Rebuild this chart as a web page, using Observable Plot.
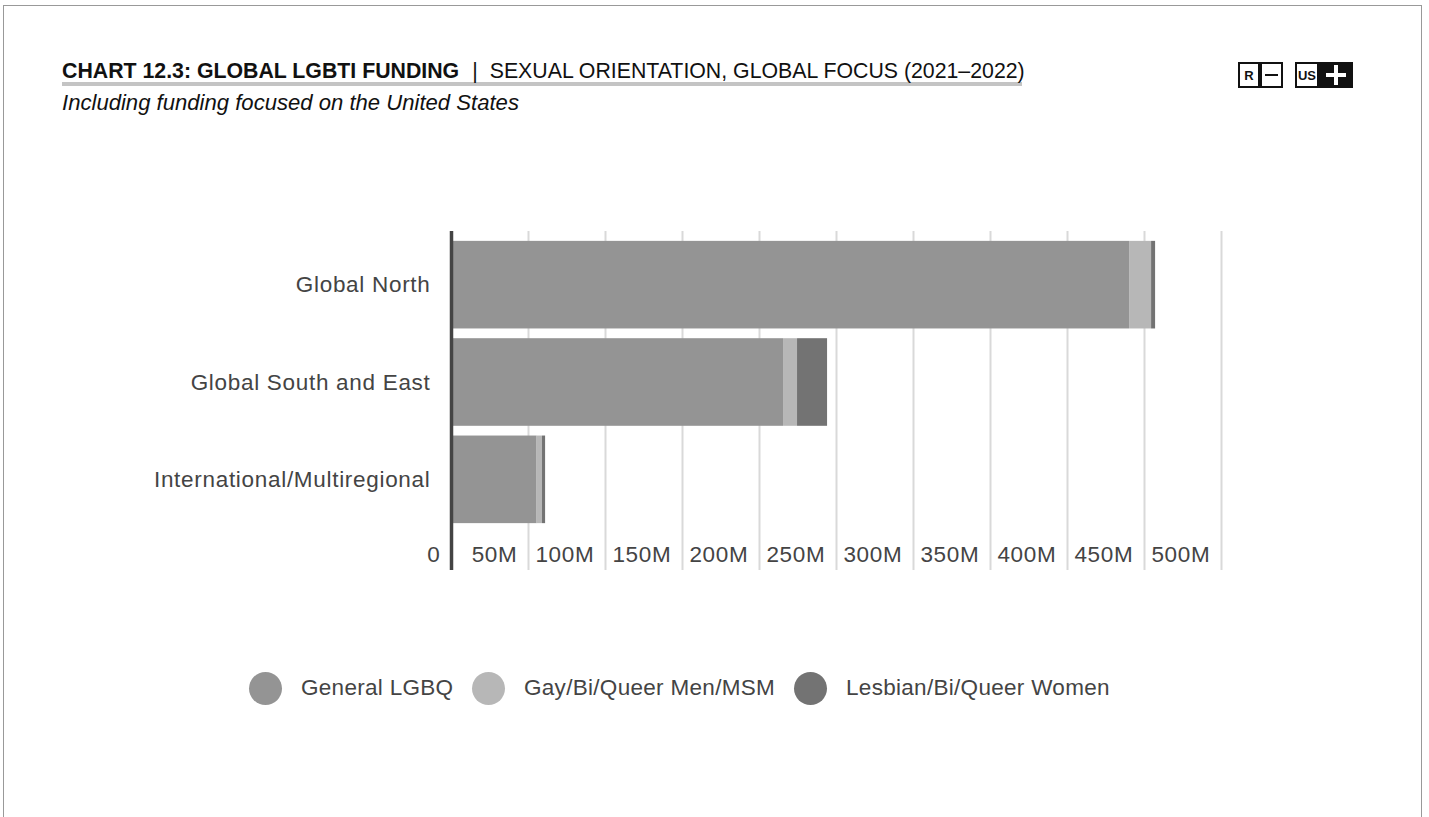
<!DOCTYPE html>
<html>
<head>
<meta charset="utf-8">
<script src="https://cdn.jsdelivr.net/npm/d3@7"></script>
<script src="https://cdn.jsdelivr.net/npm/@observablehq/plot@0.6"></script>
<style>
  html, body { margin: 0; padding: 0; background: #fff; }
  body { width: 1429px; height: 817px; position: relative; overflow: hidden; font-family: "Liberation Sans", Arial, Helvetica, sans-serif; color: #222; }
  #border { position: absolute; left: 3px; top: 5px; width: 1419px; height: 900px; border: 1px solid #999; box-sizing: border-box; }
  #title { position: absolute; left: 62px; top: 59px; font-size: 21.3px; white-space: nowrap; line-height: 24px; color: #111; }
  #title b { font-weight: bold; }
  #title .sep { margin: 0 12px 0 13px; }
  #underline { position: absolute; left: 62px; top: 82px; width: 960px; height: 4px; background: #c4c4c4; }
  #subtitle { position: absolute; left: 62px; top: 91px; font-size: 22.1px; line-height: 24px; font-style: italic; color: #111; white-space: nowrap; }
  .ib { position: absolute; top: 62px; height: 26px; box-sizing: border-box; border: 2px solid #111; font-weight: bold; font-size: 13px; display: flex; align-items: center; justify-content: center; color: #111; }
  #chart { position: absolute; left: 0; top: 200px; }
  #chart text { letter-spacing: 0.7px; }
  .li { position: absolute; top: 671px; display: flex; align-items: center; height: 34px; font-size: 22.5px; letter-spacing: 0.3px; color: #444; white-space: nowrap; }
  .dot { width: 33px; height: 33px; border-radius: 50%; margin-right: 19px; }
</style>
</head>
<body>
<div id="border"></div>
<div id="underline"></div>
<div id="title"><b>CHART 12.3: GLOBAL LGBTI FUNDING</b><span class="sep">|</span>SEXUAL ORIENTATION, GLOBAL FOCUS (2021–2022)</div>
<div id="subtitle">Including funding focused on the United States</div>
<div class="ib" style="left:1238px;width:22px;">R</div>
<div class="ib" style="left:1260px;width:23px;"><div style="width:13px;height:2px;background:#111"></div></div>
<div class="ib" style="left:1295px;width:24px;font-size:13px;">US</div>
<div class="ib" style="left:1319px;width:34px;background:#111;">
  <div style="position:relative;width:20px;height:20px;">
    <div style="position:absolute;left:8px;top:0;width:4px;height:20px;background:#fff"></div>
    <div style="position:absolute;left:0;top:8px;width:20px;height:4px;background:#fff"></div>
  </div>
</div>
<div id="chart"></div>
<div id="legend"></div>
<script>
// ---- data (values in millions USD) ----
const regions = ["Global North", "Global South and East", "International/Multiregional"];
const seriesNames = ["General LGBQ", "Gay/Bi/Queer Men/MSM", "Lesbian/Bi/Queer Women"];
const seriesColors = ["#949494", "#b7b7b7", "#737373"];
const generalLGBQ = [440.3, 215.6, 55.6];
const gayBiQueerMen = [14.3, 9.1, 3.5];
const lesbianBiQueerWomen = [2.6, 19.5, 2.0];
const xTicks = [0, 50, 100, 150, 200, 250, 300, 350, 400, 450, 500];
const xTickLabels = ["0", "50M", "100M", "150M", "200M", "250M", "300M", "350M", "400M", "450M", "500M"];

const seriesValues = [generalLGBQ, gayBiQueerMen, lesbianBiQueerWomen];
const rows = regions.flatMap((region, i) =>
  seriesNames.map((series, s) => ({region, series, value: seriesValues[s][i]}))
);

const font = '"Liberation Sans", Arial, Helvetica, sans-serif';
const chart = Plot.plot({
  width: 1429,
  height: 400,
  marginLeft: 451,
  marginRight: 208,
  marginTop: 31,
  marginBottom: 30,
  style: {fontFamily: font, color: "#444", background: "transparent", overflow: "visible"},
  x: {domain: [0, 500], range: [451, 1221]},
  y: {domain: regions, range: [36, 328], paddingInner: 0.1, paddingOuter: 0.05, round: false},
  color: {domain: seriesNames, range: seriesColors},
  marks: [
    Plot.gridX({ticks: xTicks, stroke: "#d9d9d9", strokeOpacity: 1, strokeWidth: 2}),
    Plot.barX(rows, Plot.stackX({y: "region", x: "value", fill: "series", order: seriesNames})),
    Plot.ruleX([0], {stroke: "#444", strokeWidth: 3.5}),
    Plot.axisY({tickSize: 0, tickPadding: 21, fontSize: 22.5, label: null}),
    Plot.axisX({
      anchor: "bottom", ticks: xTicks, tickSize: 0, tickPadding: 0,
      tickFormat: d => xTickLabels[xTicks.indexOf(d)],
      textAnchor: "end", dx: -11, dy: -24, fontSize: 22.5, label: null
    })
  ]
});
document.getElementById("chart").appendChild(chart);

// legend
const legendX = [249, 472, 794];
seriesNames.forEach((name, i) => {
  const d = document.createElement("div");
  d.className = "li";
  d.style.left = legendX[i] + "px";
  d.innerHTML = `<div class="dot" style="background:${seriesColors[i]}"></div><span>${name}</span>`;
  document.getElementById("legend").appendChild(d);
});
</script>
</body>
</html>
